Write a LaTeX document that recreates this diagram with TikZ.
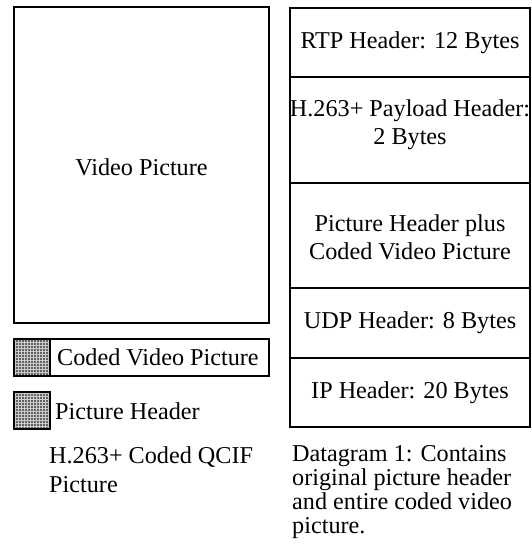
\documentclass[tikz,border=0pt]{standalone}
\usepackage{fontspec}
\setmainfont{Liberation Serif}
\usetikzlibrary{patterns}
\begin{document}
\begin{tikzpicture}[x=1pt,y=-1pt,
  frame/.style={draw=black,line width=1.8pt},
  swatch/.style={draw=black,line width=1.8pt,fill=black!62,
    postaction={pattern=grid,pattern color=black!20}},
  lbl/.style={inner sep=0pt,font=\fontsize{24.2}{28}\selectfont,align=center},
  leftlbl/.style={inner sep=0pt,font=\fontsize{24.2}{28}\selectfont,anchor=base west},
  caption/.style={inner sep=0pt,font=\fontsize{24.2}{24}\selectfont,align=left,anchor=base west}]
\useasboundingbox (0,0) rectangle (531,555);

% left: picture and legend
\draw[frame] (14,7) rectangle (269,323);
\node[lbl] (vp) at (141.5,167) {Video Picture};

\draw[frame] (14,339) rectangle (269,376);
\draw[swatch] (14,339) rectangle (50,376);
\draw[line width=1.8pt] (14,339) rectangle (50,376);
\node[leftlbl] (cvp) at (57,365) {Coded Video Picture};

\draw[swatch] (14,392) rectangle (50,429);
\draw[line width=1.8pt] (14,392) rectangle (50,429);
\node[leftlbl] (ph) at (55,419) {Picture Header};

% multi-line captions are anchored on the baseline of their last line
\node[caption,font=\fontsize{24.2}{29}\selectfont] (qcif) at (49,492)
  {H.263+ Coded QCIF\\Picture};

% right: datagram layers
\draw[frame] (290,8) rectangle (530,427);
\foreach \yy in {77,183,288,358} \draw[frame] (290,\yy) -- (530,\yy);

\node[lbl] (rtp) at (410,42.5) {RTP Header: 12 Bytes};
\node[lbl] (pay) at (410,125) {H.263+ Payload Header:\\2 Bytes};
\node[lbl] (pic) at (410,237) {Picture Header plus\\Coded Video Picture};
\node[lbl] (udp) at (410,323) {UDP Header: 8 Bytes};
\node[lbl] (ip) at (410,392.5) {IP Header: 20 Bytes};

\node[caption] (dg) at (292,533)
  {Datagram 1: Contains\\original picture header\\and entire coded video\\picture.};
\end{tikzpicture}
\end{document}
